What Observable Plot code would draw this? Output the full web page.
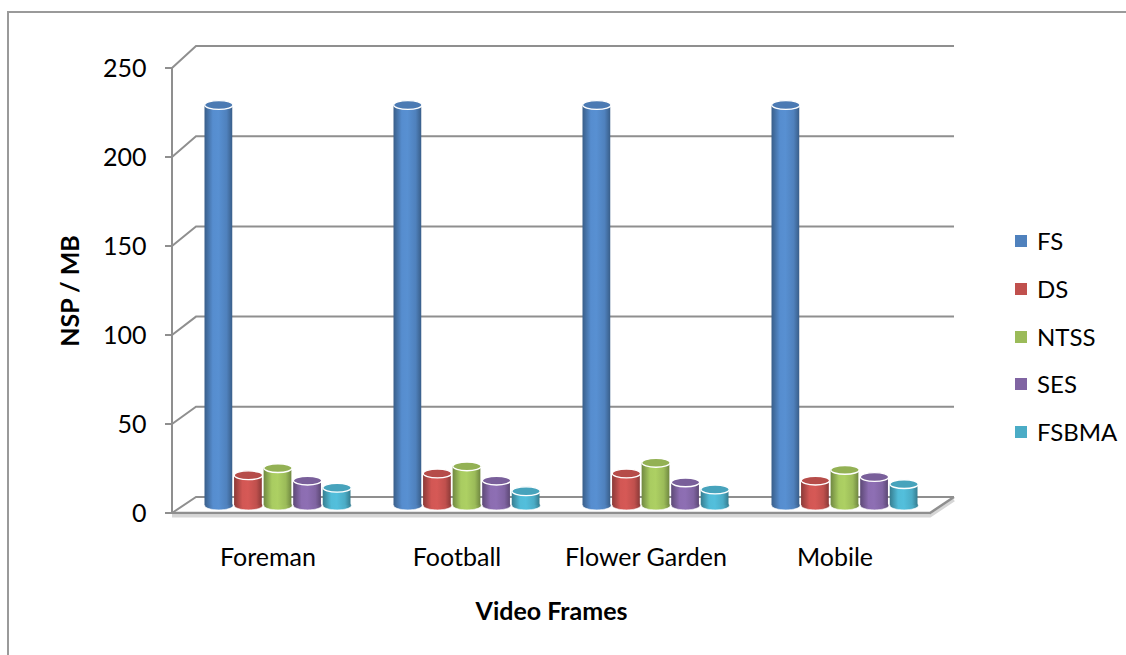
<!DOCTYPE html>
<html><head><meta charset="utf-8">
<script src="https://cdn.jsdelivr.net/npm/d3@7"></script>
<script src="https://cdn.jsdelivr.net/npm/@observablehq/plot@0.6"></script>
<style>
html,body{margin:0;padding:0;background:#fff;}
#wrap{position:relative;width:1126px;height:655px;overflow:hidden;font-family:Lato,sans-serif;}
#frame{position:absolute;left:7px;top:11px;width:1200px;height:700px;border-left:2px solid #9a9a9a;border-top:2px solid #9a9a9a;}
#chart{position:absolute;left:0;top:0;}
.lg{position:absolute;font-size:24px;line-height:24px;color:#000;white-space:nowrap;}
.sw{position:absolute;width:12px;height:12px;}
</style></head><body>
<div id="wrap"><div id="frame"></div><div id="chart"></div><div id="legend"></div></div>
<script>
// ---- data ----
const frames = ["Foreman", "Football", "Flower Garden", "Mobile"];
const series = ["FS", "DS", "NTSS", "SES", "FSBMA"];
const FS    = [225, 225, 225, 225];
const DS    = [17, 18, 18, 14];
const NTSS  = [21, 22, 24, 20];
const SES   = [14, 14, 13, 16];
const FSBMA = [10, 8, 9, 12];
const colors = ["#4f81bd", "#c0504d", "#9bbb59", "#8064a2", "#4bacc6"];
const yTicks = [0, 50, 100, 150, 200, 250];
const yTitle = "NSP / MB";
const xTitle = "Video Frames";

const valuesBySeries = [FS, DS, NTSS, SES, FSBMA];
const table = series.flatMap((s, j) => frames.map((f, i) => ({frame: f, series: s, value: valuesBySeries[j][i]})));

// ---- layout ----
const W = 1126, H = 655, mL = 172, mR = 196, mT = 68, mB = 142;
const pInner = 0.22, pOuter = 0.11;
const step = (W - mL - mR) / (frames.length - pInner + 2 * pOuter);
const bw = step * (1 - pInner);
const w = bw / series.length;
const barDx = 10, barDy = -8;
const depthX = 24;
const gridColor = "#8f8f8f";

function ellipseSymbol(rx, ry) {
  const k = 0.5523;
  return {draw(ctx) {
    ctx.moveTo(-rx, 0);
    ctx.bezierCurveTo(-rx, -ry * k, -rx * k, -ry, 0, -ry);
    ctx.bezierCurveTo(rx * k, -ry, rx, -ry * k, rx, 0);
    ctx.bezierCurveTo(rx, ry * k, rx * k, ry, 0, ry);
    ctx.bezierCurveTo(-rx * k, ry, -rx, ry * k, -rx, 0);
    ctx.closePath();
  }};
}
const ell = ellipseSymbol(w / 2 - 0.6, 4.4);

// walls, gridlines and gradient defs drawn from the y scale
function walls(index, scales, values, dim) {
  const y = scales.y;
  const left = dim.marginLeft, right = dim.width - dim.marginRight;
  const y0 = y(0), yMax = y(250);
  const backY = v => y(v) - 16 - 6 * v / 250;
  const g = d3.create("svg:g");
  const defs = g.append("defs");
  colors.forEach((c, j) => {
    const base = d3.color(c);
    const grad = defs.append("linearGradient").attr("id", "cyl" + j)
      .attr("x1", 0).attr("x2", 1).attr("y1", 0).attr("y2", 0);
    grad.append("stop").attr("offset", "0%").attr("stop-color", base.darker(0.9));
    grad.append("stop").attr("offset", "30%").attr("stop-color", base.brighter(0.25));
    grad.append("stop").attr("offset", "50%").attr("stop-color", base.brighter(0.3));
    grad.append("stop").attr("offset", "80%").attr("stop-color", base);
    grad.append("stop").attr("offset", "100%").attr("stop-color", base.darker(0.9));
  });
  // floor slab shadow
  g.append("path")
    .attr("d", `M${left},${y0 + 3}L${right},${y0 + 3}L${right + depthX},${backY(0) + 3}`)
    .attr("fill", "none").attr("stroke", "#d6d6d6").attr("stroke-width", 3);
  // gridlines on back wall + side connectors
  for (const v of yTicks) {
    g.append("path")
      .attr("d", `M${left},${y(v)}L${left + depthX},${backY(v)}L${right + depthX},${backY(v)}`)
      .attr("fill", "none").attr("stroke", gridColor).attr("stroke-width", 2);
    g.append("path")
      .attr("d", `M${left - 7},${y(v)}L${left},${y(v)}`)
      .attr("stroke", gridColor).attr("stroke-width", 2);
  }
  // floor front edge
  g.append("path")
    .attr("d", `M${left},${y0}L${right},${y0}L${right + depthX},${backY(0)}`)
    .attr("fill", "none").attr("stroke", gridColor).attr("stroke-width", 2.5);
  // front axis
  g.append("path")
    .attr("d", `M${left},${yMax}L${left},${y0}`)
    .attr("stroke", gridColor).attr("stroke-width", 2);
  return g.node();
}

const marks = [walls];
series.forEach((s, j) => {
  const rows = table.filter(d => d.series === s);
  const cx = barDx + (j + 0.5) * w - bw / 2;
  const base = d3.color(colors[j]);
  marks.push(
    Plot.dot(rows, {x: "frame", y: () => 0, symbol: ell, fill: `url(#cyl${j})`, stroke: "#ffffff", strokeOpacity: 0.6, strokeWidth: 1, dx: cx, dy: barDy}),
    Plot.barY(rows, {x: "frame", y: "value", fill: `url(#cyl${j})`, insetLeft: j * w + 0.5, insetRight: (series.length - 1 - j) * w + 0.5, dx: barDx, dy: barDy}),
    Plot.dot(rows, {x: "frame", y: "value", symbol: ell, fill: base.darker(0.15).formatHex(), stroke: "#ffffff", strokeWidth: 1.4, dx: cx, dy: barDy})
  );
});
marks.push(
  Plot.text([yTitle], {text: d => d, frameAnchor: "left", textAnchor: "middle", lineAnchor: "middle", rotate: -90, dx: -102, fontWeight: "bold", fontSize: 25, fill: "#000"}),
  Plot.text([xTitle], {text: d => d, frameAnchor: "bottom", textAnchor: "middle", lineAnchor: "middle", dy: 98, fontWeight: "bold", fontSize: 25, fill: "#000"})
);

const chart = Plot.plot({
  width: W, height: H,
  marginLeft: mL, marginRight: mR, marginTop: mT, marginBottom: mB,
  style: {fontFamily: "Lato, sans-serif", fontSize: "25px", color: "#000", background: "transparent", overflow: "visible"},
  x: {domain: frames, paddingInner: pInner, paddingOuter: pOuter, tickSize: 0, tickPadding: 35, label: null},
  y: {domain: [0, 250], ticks: yTicks, tickSize: 0, tickPadding: 26, label: null},
  marks
});
document.getElementById("chart").appendChild(chart);

// legend
const legend = document.getElementById("legend");
series.forEach((s, j) => {
  const cy = 241 + j * 47.8;
  const sw = document.createElement("div");
  sw.className = "sw";
  sw.style.left = "1015px"; sw.style.top = (cy - 6) + "px"; sw.style.background = colors[j];
  const lb = document.createElement("div");
  lb.className = "lg";
  lb.style.left = "1037px"; lb.style.top = (cy - 12) + "px";
  lb.textContent = s;
  legend.appendChild(sw); legend.appendChild(lb);
});
</script>
</body></html>
